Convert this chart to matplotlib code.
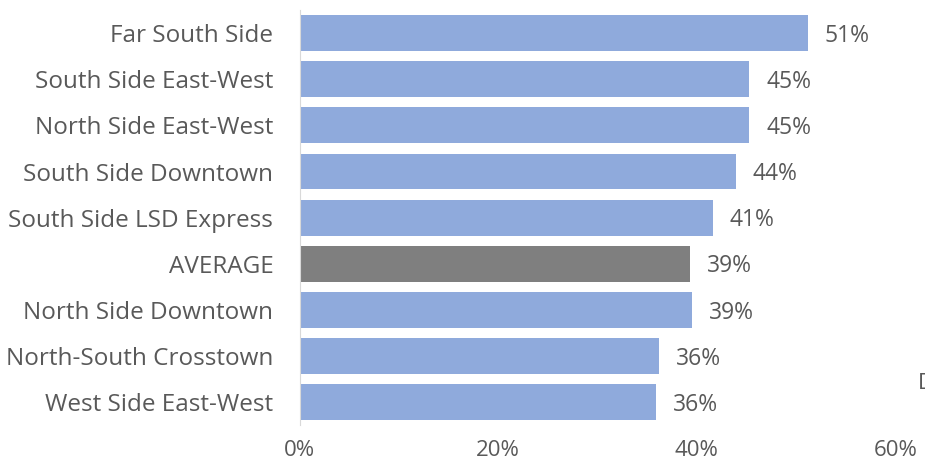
import matplotlib.pyplot as plt

plt.rcParams['font.family'] = ['Open Sans', 'DejaVu Sans']

routes = ['Far South Side', 'South Side East-West', 'North Side East-West',
          'South Side Downtown', 'South Side LSD Express', 'AVERAGE',
          'North Side Downtown', 'North-South Crosstown', 'West Side East-West']
share = [51.2, 45.3, 45.3, 43.9, 41.6, 39.3, 39.5, 36.2, 35.9]
labels = ['51%', '45%', '45%', '44%', '41%', '39%', '39%', '36%', '36%']

blue = '#8FAADC'
grey = '#7F7F7F'
txt = '#595959'
colors = [grey if r == 'AVERAGE' else blue for r in routes]

fig = plt.figure(figsize=(9.25, 4.63), dpi=100)
ax = fig.add_axes([0.324, 0.082, 0.644, 0.896])

y = list(range(len(routes)))
ax.barh(y, share, height=0.78, color=colors)
ax.set_ylim(len(routes) - 0.5, -0.5)
ax.set_xlim(0, 60)

for yi, v, lab in zip(y, share, labels):
    ax.text(v + 1.7, yi + 0.06, lab, va='center', ha='left', fontsize=16.5, color=txt)

ax.set_yticks(y)
ax.set_yticklabels(routes, fontsize=17.5, color=txt)
ax.set_xticks([0, 20, 40, 60])
ax.set_xticklabels(['0%', '20%', '40%', '60%'], fontsize=16, color=txt)
ax.tick_params(axis='both', length=0)
ax.tick_params(axis='x', pad=11)
ax.tick_params(axis='y', pad=19)

for s in ['top', 'right', 'bottom']:
    ax.spines[s].set_visible(False)
ax.spines['left'].set_color('#D9D9D9')

fig.text(0.992, 0.172, 'D', fontsize=16, color=txt, ha='left', va='center')

fig.savefig('out.png', dpi=100)
